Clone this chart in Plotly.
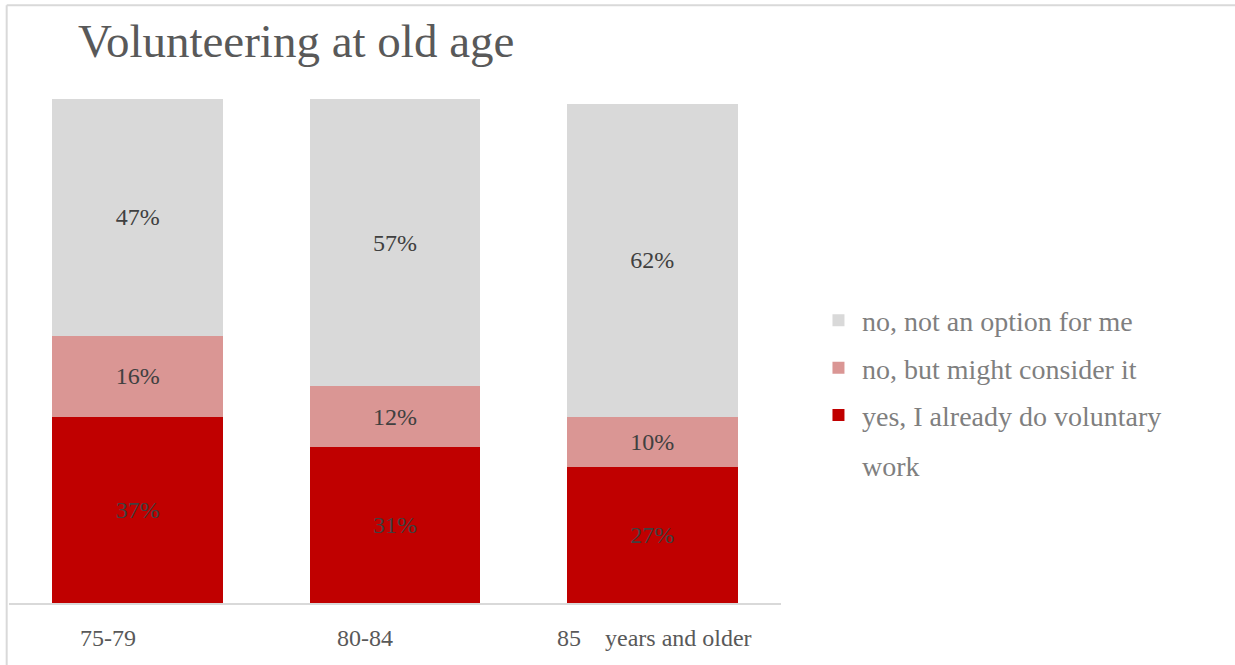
import plotly.graph_objects as go

categories = ["75-79", "80-84", "85 years and older"]
tick_labels = ["75-79", "80-84", "85    years and older"]
series_names = ["yes, I already do voluntary", "no, but might consider it", "no, not an option for me"]
yes_already = [37, 31, 27]
might_consider = [16, 12, 10]
not_option = [47, 57, 62]

colors = ["#c00000", "#da9694", "#d9d9d9"]
series_values = [yes_already, might_consider, not_option]
legend_ranks = [3, 2, 1]
tick_shifts = [-60, -60, -97]

fig = go.Figure()
for name, vals, col, rk in zip(series_names, series_values, colors, legend_ranks):
    fig.add_trace(go.Bar(
        x=categories, y=vals, name=name, legendgroup=name, legendrank=rk,
        marker=dict(color=col, line=dict(width=0)),
        text=[f"{v}%" for v in vals], textposition="inside",
        insidetextanchor="middle",
        textfont=dict(family="Liberation Serif", size=24, color="#404040"),
        hoverinfo="skip",
    ))

for cat, lab, sh in zip(categories, tick_labels, tick_shifts):
    fig.add_annotation(x=cat, y=0, xref="x", yref="y", text=lab, showarrow=False,
                       xanchor="left", yanchor="middle", xshift=sh, yshift=-35,
                       font=dict(family="Liberation Serif", size=24, color="#595959"))

# wrapped continuation of the last legend entry
fig.add_annotation(x=1.0, y=1 - (466 - 99) / 504, xref="paper", yref="paper", text="work",
                   showarrow=False, xanchor="left", yanchor="middle", xshift=860 - 781,
                   font=dict(family="Liberation Serif", size=28, color="#7f7f7f"))

# frame lines (top and left)
fig.add_shape(type="line", xref="paper", yref="paper", x0=-0.003, x1=1.6, y0=1.186, y1=1.186,
              line=dict(color="#d9d9d9", width=2))
fig.add_shape(type="line", xref="paper", yref="paper", x0=-0.003, x1=-0.003, y0=1.186, y1=-0.2,
              line=dict(color="#d9d9d9", width=2))

fig.update_layout(
    width=1235, height=665,
    barmode="stack", bargap=0.336,
    paper_bgcolor="white", plot_bgcolor="white",
    margin=dict(l=9, r=454, t=99, b=62),
    title=dict(text="Volunteering at old age", x=78/1235, xanchor="left", xref="container",
               y=1-41/665, yanchor="middle", yref="container",
               font=dict(family="Liberation Serif", size=47, color="#595959")),
    xaxis=dict(showticklabels=False, showline=True, linecolor="#d9d9d9", linewidth=1.5,
               ticks="", showgrid=False, zeroline=False),
    yaxis=dict(range=[0, 100], visible=False, showgrid=False, zeroline=False),
    legend=dict(x=1.044, xanchor="left", y=0.61, yanchor="top", traceorder="grouped",
                tracegroupgap=8, itemwidth=37, bgcolor="rgba(0,0,0,0)",
                font=dict(family="Liberation Serif", size=28, color="#7f7f7f")),
)

fig.write_html("out.html", config={"displayModeBar": False},
               post_script="document.body.style.margin='0';")
